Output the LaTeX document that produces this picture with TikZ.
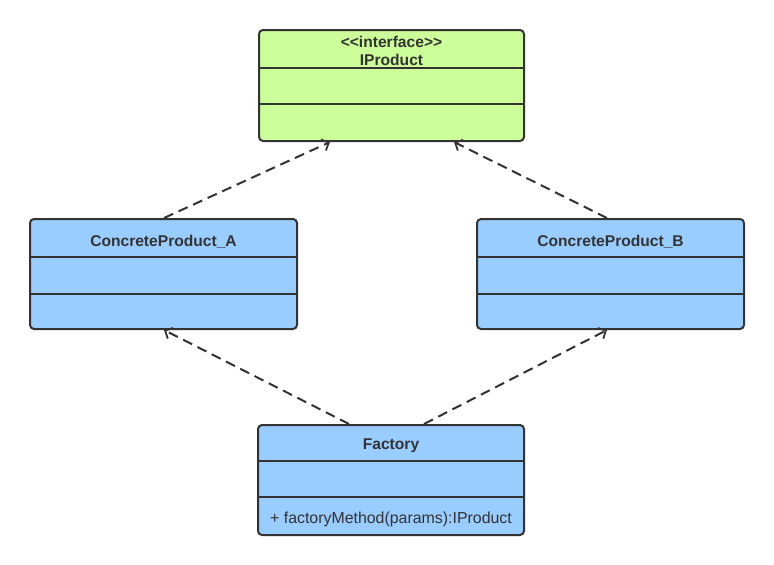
\documentclass[tikz,border=0pt]{standalone}
\usepackage{fontspec}
\setmainfont{Liberation Sans}
\usetikzlibrary{arrows.meta,calc}
\definecolor{ifgreen}{HTML}{CCFF99}
\definecolor{clsblue}{HTML}{99CCFF}
\definecolor{edge}{HTML}{333333}
\tikzset{
  cls/.style={draw=edge, line width=2pt, rounded corners=4pt, minimum width=266pt, minimum height=110pt, inner sep=0pt},
  divider/.style={draw=edge, line width=2pt},
  title/.style={font=\bfseries\fontsize{15.6}{18}\selectfont, text=edge},
  member/.style={font=\fontsize{15.9}{18}\selectfont, text=edge},
  realize/.style={draw=edge, line width=2pt, dash pattern=on 10pt off 6pt, -{Straight Barb[length=6pt,width=12pt,line width=1.8pt]}}
}
\begin{document}
\begin{tikzpicture}[x=1pt,y=-1pt]
\useasboundingbox (0,0) rectangle (774,565);
% IProduct
\node[cls, fill=ifgreen, minimum width=265pt, minimum height=111pt] (ip) at (391.5,85.5) {};
\draw[divider] ($(ip.north west)+(0,39)$) -- ($(ip.north east)+(0,39)$);
\draw[divider] ($(ip.north west)+(0,75)$) -- ($(ip.north east)+(0,75)$);
\node[title] (ipst) at (391.5,41.5) {<\kern0pt<interface>\kern0pt>};
\node[title] (ipname) at (391.5,60) {IProduct};
% ConcreteProduct_A
\node[cls, fill=clsblue, minimum width=267pt] (pa) at (163.5,274) {};
\draw[divider] ($(pa.north west)+(0,39)$) -- ($(pa.north east)+(0,39)$);
\draw[divider] ($(pa.north west)+(0,76)$) -- ($(pa.north east)+(0,76)$);
\node[title] (paname) at (163.5,242) {ConcreteProduct\_A};
% ConcreteProduct_B
\node[cls, fill=clsblue, minimum width=267pt] (pb) at (610.5,274) {};
\draw[divider] ($(pb.north west)+(0,39)$) -- ($(pb.north east)+(0,39)$);
\draw[divider] ($(pb.north west)+(0,76)$) -- ($(pb.north east)+(0,76)$);
\node[title] (pbname) at (610.5,242) {ConcreteProduct\_B};
% Factory
\node[cls, fill=clsblue] (fa) at (391,480) {};
\draw[divider] ($(fa.north west)+(0,37)$) -- ($(fa.north east)+(0,37)$);
\draw[divider] ($(fa.north west)+(0,73)$) -- ($(fa.north east)+(0,73)$);
\node[title] (faname) at (391,446) {Factory};
\node[member] (fameth) at (391,519) {+ factoryMethod(params):IProduct};
% connectors
\coordinate (paTop) at ($(pa.north west)+(135,0)$);
\coordinate (pbTop) at ($(pb.north west)+(131,0)$);
\coordinate (ipL) at ($(ip.south west)+(72,0)$);
\coordinate (ipR) at ($(ip.south west)+(196,0)$);
\coordinate (paBot) at ($(pa.south west)+(135,0)$);
\coordinate (pbBot) at ($(pb.south west)+(131,0)$);
\coordinate (faL) at ($(fa.north west)+(92,0)$);
\coordinate (faR) at ($(fa.north west)+(167,0)$);
\draw[realize] (paTop) -- (ipL);
\draw[realize] (pbTop) -- (ipR);
\draw[realize] (faL) -- (paBot);
\draw[realize] (faR) -- (pbBot);
\end{tikzpicture}
\end{document}
